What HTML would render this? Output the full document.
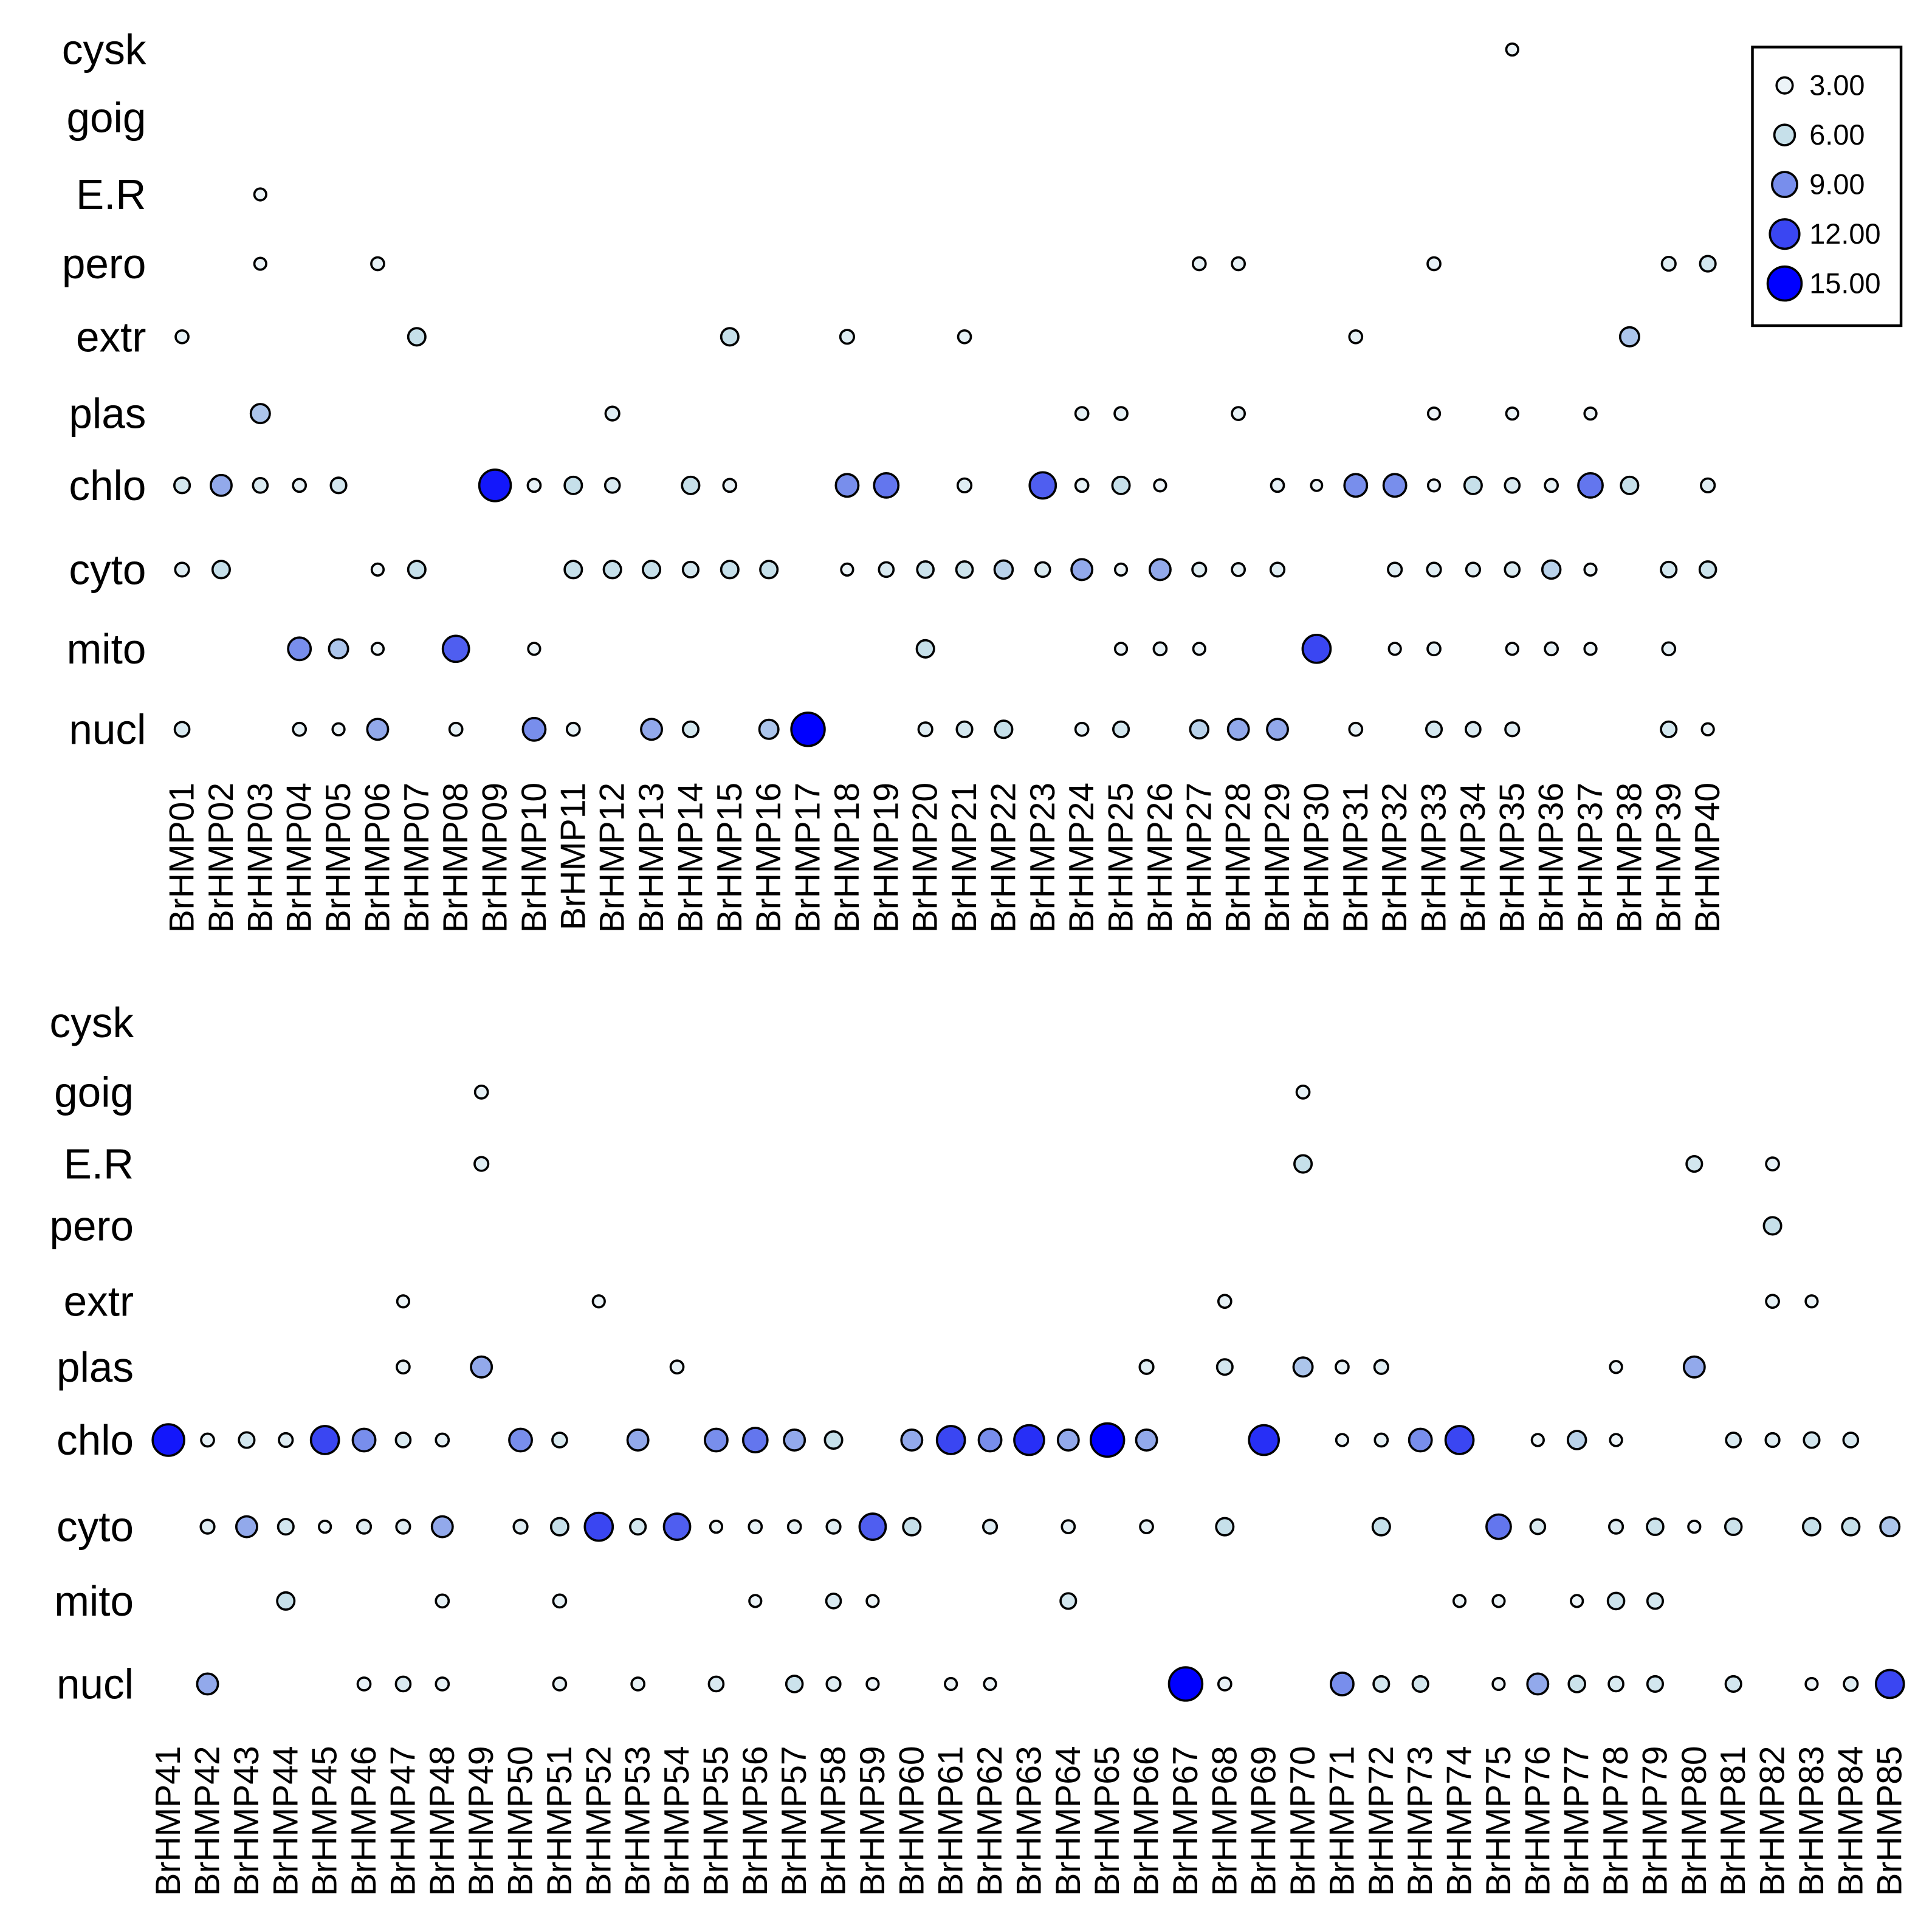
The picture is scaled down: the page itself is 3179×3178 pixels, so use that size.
<!DOCTYPE html>
<html><head><meta charset="utf-8"><style>html,body{margin:0;padding:0;background:#fff}svg{display:block}</style></head>
<body>
<svg id="chart" xmlns="http://www.w3.org/2000/svg" width="3179" height="3178" viewBox="0 0 1560 1559.5" font-family="Liberation Sans, Arial, sans-serif">
<rect width="1560" height="1560" fill="#fff"/>
</svg>
<script>
const rows = ["cysk","goig","E.R","pero","extr","plas","chlo","cyto","mito","nucl"];
const topCols = Array.from({length:40},(_,i)=>"BrHMP"+String(i+1).padStart(2,"0"));
const botCols = Array.from({length:45},(_,i)=>"BrHMP"+String(i+41));
const legendValues = [3,6,9,12,15];
const legendLabels = ["3.00","6.00","9.00","12.00","15.00"];
const topData = {
 cysk:{35:3},
 goig:{},
 "E.R":{3:3},
 pero:{3:3,6:3.5,27:3.5,28:3.5,33:3.5,39:4,40:5},
 extr:{1:3.5,7:6,15:6,18:4,21:3.5,31:3.5,38:7},
 plas:{3:7,12:4,24:3.5,25:3.5,28:3.5,33:3,35:3,37:3},
 chlo:{1:5,2:8,3:4.5,4:3.5,5:5,9:14,10:3.5,11:6,12:4.5,14:6,15:3.5,18:9,19:10,21:4,23:11,24:3.5,25:6,26:3,29:3.5,30:2.5,31:9,32:9,33:3,34:6,35:4.5,36:3.5,37:10,38:6,40:4},
 cyto:{1:4,2:6,6:3,7:6,11:6,12:6,13:6,14:5,15:6,16:6,18:3,19:4.5,20:5.5,21:5.5,22:6.5,23:4.5,24:8,25:3,26:8,27:4,28:3.5,29:4,32:4,33:4,34:4,35:4.5,36:6.5,37:3,39:5,40:5.5},
 mito:{4:9,5:7,6:3,8:11,10:3,20:6,25:3,26:3.5,27:3,30:12,32:3,33:3.5,35:3,36:3.5,37:3,39:3.5},
 nucl:{1:4.5,4:3.5,5:3,6:8,8:3.5,10:9,11:3.5,13:8,14:5,16:7,17:15,20:4,21:5,22:6,24:3.5,25:5,27:6.5,28:8,29:8,31:3.5,33:5,34:4.5,35:4,39:5,40:3}
};
const botData = {
 cysk:{},
 goig:{49:3.5,70:3.5},
 "E.R":{49:4,70:6,80:5,82:3.5},
 pero:{82:6},
 extr:{47:3,52:3,68:3.5,82:3.5,83:3},
 plas:{47:3.5,49:8,54:3.5,66:4,68:5,70:7,71:3.5,72:4,78:3,80:8},
 chlo:{41:14,42:3.5,43:5,44:4,45:12,46:9,47:4.5,48:3.5,50:9,51:4.5,53:8,55:9,56:10,57:8,58:6,60:8,61:12,62:9,63:13,64:8,65:15,66:8,69:13,71:3,72:3.5,73:9,74:12,76:3,77:6.5,78:3,81:4.5,82:4,83:5,84:4.5},
 cyto:{42:4,43:8,44:5,45:3,46:4,47:4,48:8,50:4,51:6,52:12,53:5,54:11,55:3,56:3.5,57:3.5,58:4,59:11,60:6,62:4,64:3.5,66:3.5,68:6,72:6,75:10,76:4.5,78:4,79:5.5,80:3,81:5.5,83:6,84:6,85:7},
 mito:{44:6,48:3.5,51:3.5,56:3,58:4.5,59:3,64:5,74:3,75:3,77:3,78:5.5,79:5},
 nucl:{42:8,46:3.5,47:4.5,48:3.5,51:3.5,53:3.5,55:4.5,57:5.5,58:4,59:3,61:3,62:3,67:15,68:3.5,71:9,72:5,73:5,75:3,76:8,77:5.5,78:4.5,79:5,81:5,83:3,84:4,85:12}
};
const NS="http://www.w3.org/2000/svg";
const svg=document.getElementById("chart");
function rScale(v){return 4.8+(v-3)*0.72;}
function rLegend(v){return 6.5+(v-3)*0.6;}
const stops=[[3,[236,244,248]],[6,[198,224,234]],[9,[120,142,236]],[12,[58,70,242]],[15,[0,0,255]]];
function cScale(v){
 if(v<=stops[0][0])return "rgb("+stops[0][1].join(",")+")";
 for(let i=1;i<stops.length;i++){if(v<=stops[i][0]){const a=stops[i-1],b=stops[i],t=(v-a[0])/(b[0]-a[0]);return "rgb("+a[1].map((c,k)=>Math.round(c+(b[1][k]-c)*t)).join(",")+")";}}
 return "rgb(0,0,255)";
}
function mk(tag,attrs){const e=document.createElementNS(NS,tag);for(const k in attrs)e.setAttribute(k,attrs[k]);return e;}
function panel(cols,data,firstIdx,x0,dx,rowY,labelX,colLabelY,name){
 const g=mk("g",{});
 
 
 svg.appendChild(g);
 rows.forEach((r,ri)=>{
  const t=mk("text",{x:labelX,y:rowY[ri],"font-size":34,"text-anchor":"end","dominant-baseline":"central",fill:"#000"});
  t.textContent=r;
  
  
  g.appendChild(t);
 });
 cols.forEach((c,ci)=>{
  const x=x0+ci*dx;
  const t=mk("text",{x:0,y:0,"font-size":28,"text-anchor":"end","dominant-baseline":"central",transform:"translate("+x+","+colLabelY+") rotate(-90)",fill:"#000"});
  t.textContent=c;
  
  
  g.appendChild(t);
 });
 rows.forEach((r,ri)=>{
  const d=data[r];
  for(const k in d){
   const v=d[k];const ci=+k-firstIdx;
   const c=mk("circle",{cx:x0+ci*dx,cy:rowY[ri],r:rScale(v),fill:cScale(v),stroke:"#000","stroke-width":1.8});
   
   
   g.appendChild(c);
  }
 });
}
panel(topCols,topData,1,147,(1379-147)/39,[40,95,157,213,272,334,392,460,524,589],118,632,"top-panel");
panel(botCols,botData,41,136,(1526-136)/44,[826,882,940,990,1051,1104,1163,1233,1293,1360],108,1410,"bottom-panel");
const lg=mk("g",{});


svg.appendChild(lg);
lg.appendChild(mk("rect",{x:1415,y:38,width:120,height:225,fill:"#fff",stroke:"#000","stroke-width":2.2}));
legendValues.forEach((v,i)=>{
 const y=69+i*40;
 const c=mk("circle",{cx:1441,cy:y,r:rLegend(v),fill:cScale(v),stroke:"#000","stroke-width":1.8});
 
 
 lg.appendChild(c);
 const t=mk("text",{x:1461,y:y,"font-size":23,"dominant-baseline":"central",fill:"#000"});
 t.textContent=legendLabels[i];
 
 
 lg.appendChild(t);
});
</script>
</body></html>
